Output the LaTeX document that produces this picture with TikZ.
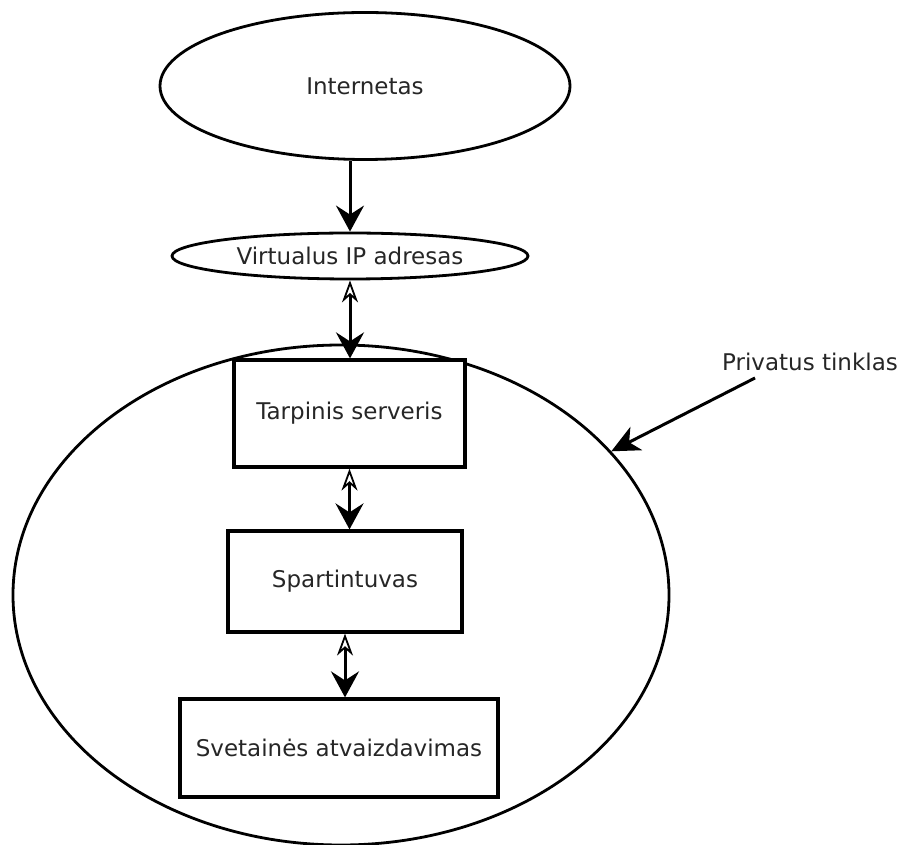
\documentclass[tikz,border=0pt]{standalone}
\usepackage{fontspec}
\setmainfont{DejaVu Sans}
\usetikzlibrary{shapes.geometric,arrows.meta}
\begin{document}
\begin{tikzpicture}[x=1pt,y=1pt,
  txt/.style={font=\fontsize{23}{27}\selectfont, text=black!85},
  oval/.style={ellipse, draw, line width=2.8pt, inner sep=0pt, txt},
  stepbox/.style={rectangle, draw, line width=3.2pt, inner sep=0pt, txt},
  dn/.style={line width=3pt, -{Stealth[length=26pt,width=28pt,inset=9pt]}},
  bi/.style={line width=3pt,
    {Stealth[open,length=22pt,width=16pt,inset=7pt,line width=1.8pt]}-{Stealth[length=26pt,width=28pt,inset=9pt]}},
  ptr/.style={line width=3pt, -{Stealth[length=28pt,width=26pt,inset=8pt]}}
]
\useasboundingbox (0,0) rectangle (899,844);

% outer private network
\node[oval, minimum width=656pt, minimum height=500pt] (priv) at (341,249) {};

% top ovals
\node[oval, minimum width=410pt, minimum height=147pt] (inet) at (365,758) {Internetas};
\node[oval, minimum width=356pt, minimum height=46pt] (vip) at (350,588) {Virtualus IP adresas};

% boxes inside the network
\node[stepbox, minimum width=231pt, minimum height=107pt, fill=white] (tarp) at (349.5,430.5) {Tarpinis serveris};
\node[stepbox, minimum width=234pt, minimum height=101pt] (spart) at (345,262.5) {Spartintuvas};
\node[stepbox, minimum width=318pt, minimum height=98pt] (svet) at (339,96) {Svetainės atvaizdavimas};

% connectors
\draw[dn] (inet.south -| vip.north) -- (vip.north);
\draw[bi] (vip.south) -- (vip.south |- tarp.north);
\draw[bi] (tarp.south) -- (tarp.south |- spart.north);
\draw[bi] (spart.south) -- (spart.south |- svet.north);

% label with pointer
\node[txt] (lbl) at (810,482) {Privatus tinklas};
\coordinate (tail) at (755,466);
\draw[ptr] (tail) -- (priv.28);
\end{tikzpicture}
\end{document}
